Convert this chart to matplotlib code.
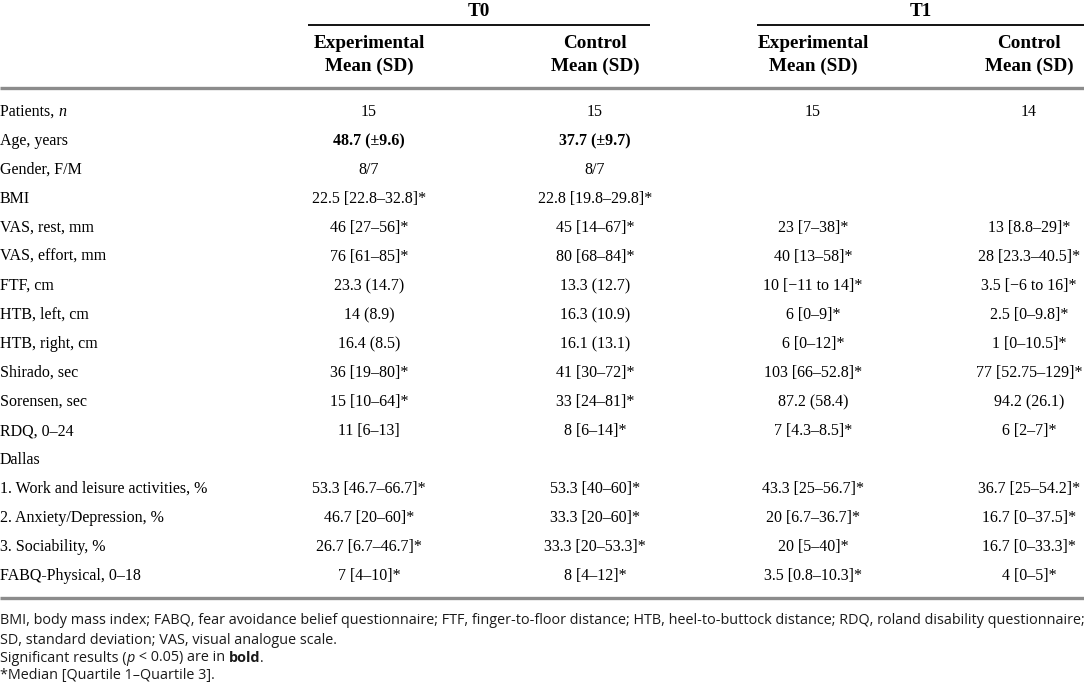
import matplotlib
matplotlib.use("Agg")
import matplotlib.pyplot as plt

# ---------------- data ----------------
groups = ["T0", "T1"]
col_heads = ["Experimental\nMean (SD)", "Control\nMean (SD)",
             "Experimental\nMean (SD)", "Control\nMean (SD)"]

row_labels = ["Patients, n", "Age, years", "Gender, F/M", "BMI", "VAS, rest, mm",
              "VAS, effort, mm", "FTF, cm", "HTB, left, cm", "HTB, right, cm",
              "Shirado, sec", "Sorensen, sec", "RDQ, 0\u201324", "Dallas",
              "1. Work and leisure activities, %", "2. Anxiety/Depression, %",
              "3. Sociability, %", "FABQ-Physical, 0\u201318"]

t0_exp = ["15", "48.7 (\u00b19.6)", "8/7", "22.5 [22.8\u201332.8]*", "46 [27\u201356]*",
          "76 [61\u201385]*", "23.3 (14.7)", "14 (8.9)", "16.4 (8.5)", "36 [19\u201380]*",
          "15 [10\u201364]*", "11 [6\u201313]", "", "53.3 [46.7\u201366.7]*",
          "46.7 [20\u201360]*", "26.7 [6.7\u201346.7]*", "7 [4\u201310]*"]
t0_ctl = ["15", "37.7 (\u00b19.7)", "8/7", "22.8 [19.8\u201329.8]*", "45 [14\u201367]*",
          "80 [68\u201384]*", "13.3 (12.7)", "16.3 (10.9)", "16.1 (13.1)", "41 [30\u201372]*",
          "33 [24\u201381]*", "8 [6\u201314]*", "", "53.3 [40\u201360]*",
          "33.3 [20\u201360]*", "33.3 [20\u201353.3]*", "8 [4\u201312]*"]
t1_exp = ["15", "", "", "", "23 [7\u201338]*", "40 [13\u201358]*", "10 [\u221211 to 14]*",
          "6 [0\u20139]*", "6 [0\u201312]*", "103 [66\u201352.8]*", "87.2 (58.4)",
          "7 [4.3\u20138.5]*", "", "43.3 [25\u201356.7]*", "20 [6.7\u201336.7]*",
          "20 [5\u201340]*", "3.5 [0.8\u201310.3]*"]
t1_ctl = ["14", "", "", "", "13 [8.8\u201329]*", "28 [23.3\u201340.5]*", "3.5 [\u22126 to 16]*",
          "2.5 [0\u20139.8]*", "1 [0\u201310.5]*", "77 [52.75\u2013129]*", "94.2 (26.1)",
          "6 [2\u20137]*", "", "36.7 [25\u201354.2]*", "16.7 [0\u201337.5]*",
          "16.7 [0\u201333.3]*", "4 [0\u20135]*"]
bold_rows = ["Age, years"]

footnotes = [
    [("BMI, body mass index; FABQ, fear avoidance belief questionnaire; FTF, finger-to-floor distance; "
      "HTB, heel-to-buttock distance; RDQ, roland disability questionnaire;", {})],
    [("SD, standard deviation; VAS, visual analogue scale.", {})],
    [("Significant results (", {}), ("p", {"style": "italic"}), (" < 0.05) are in ", {}),
     ("bold", {"weight": "bold"}), (".", {})],
    [("*Median [Quartile 1\u2013Quartile 3].", {})],
]

# ---------------- layout ----------------
W, H = 1084, 683
fig = plt.figure(figsize=(W / 100, H / 100), dpi=100)
ax = fig.add_axes([0, 0, 1, 1])
ax.set_xlim(0, W)
ax.set_ylim(H, 0)
ax.axis("off")

SERIF = ["Liberation Serif", "DejaVu Serif"]
SANS = ["Open Sans", "Noto Sans", "DejaVu Sans"]
fs_body = 11.5
fs_head = 13.8

col_x = [369, 595, 813, 1029]
group_x = [(308, 650), (757, 1084)]
row_y0, row_dy = 112, 29.0

renderer = fig.canvas.get_renderer()
inv = ax.transData.inverted()


def runs(x, y, parts, family, size, color="black"):
    for txt, kw in parts:
        t = ax.text(x, y, txt, family=family, fontsize=size, color=color,
                    ha="left", va="center", **kw)
        bb = t.get_window_extent(renderer=renderer)
        x = inv.transform((bb.x1, bb.y0))[0]


# group headers
for g, (x0, x1) in zip(groups, group_x):
    ax.text((x0 + x1) / 2, 12, g, family=SERIF, fontsize=fs_head, weight="bold",
            ha="center", va="center")
    ax.plot([x0, x1], [25, 25], color="black", lw=1.3, solid_capstyle="butt")

for cx, h in zip(col_x, col_heads):
    l1, l2 = h.split("\n")
    ax.text(cx, 44, l1, family=SERIF, fontsize=fs_head, weight="bold", ha="center", va="center")
    ax.text(cx, 66, l2, family=SERIF, fontsize=fs_head, weight="bold", ha="center", va="center")

ax.plot([0, W], [88, 88], color="#8c8c8c", lw=2.4, solid_capstyle="butt")

# body
cols = [t0_exp, t0_ctl, t1_exp, t1_ctl]
for i, lab in enumerate(row_labels):
    y = row_y0 + i * row_dy
    if lab.endswith(", n"):
        runs(0, y, [(lab[:-1], {}), ("n", {"style": "italic"})], SERIF, fs_body)
    else:
        ax.text(0, y, lab, family=SERIF, fontsize=fs_body, ha="left", va="center")
    w = "bold" if lab in bold_rows else "normal"
    for cx, col in zip(col_x, cols):
        if col[i]:
            ax.text(cx, y, col[i], family=SERIF, fontsize=fs_body, weight=w,
                    ha="center", va="center")

ax.plot([0, W], [598, 598], color="#8c8c8c", lw=2.4, solid_capstyle="butt")

# footnotes
fn_y = [621, 640, 658, 676]
for y, parts in zip(fn_y, footnotes):
    runs(0, y, parts, SANS, 10.35, color="#1a1a1a")

fig.savefig("out.png", dpi=100)
